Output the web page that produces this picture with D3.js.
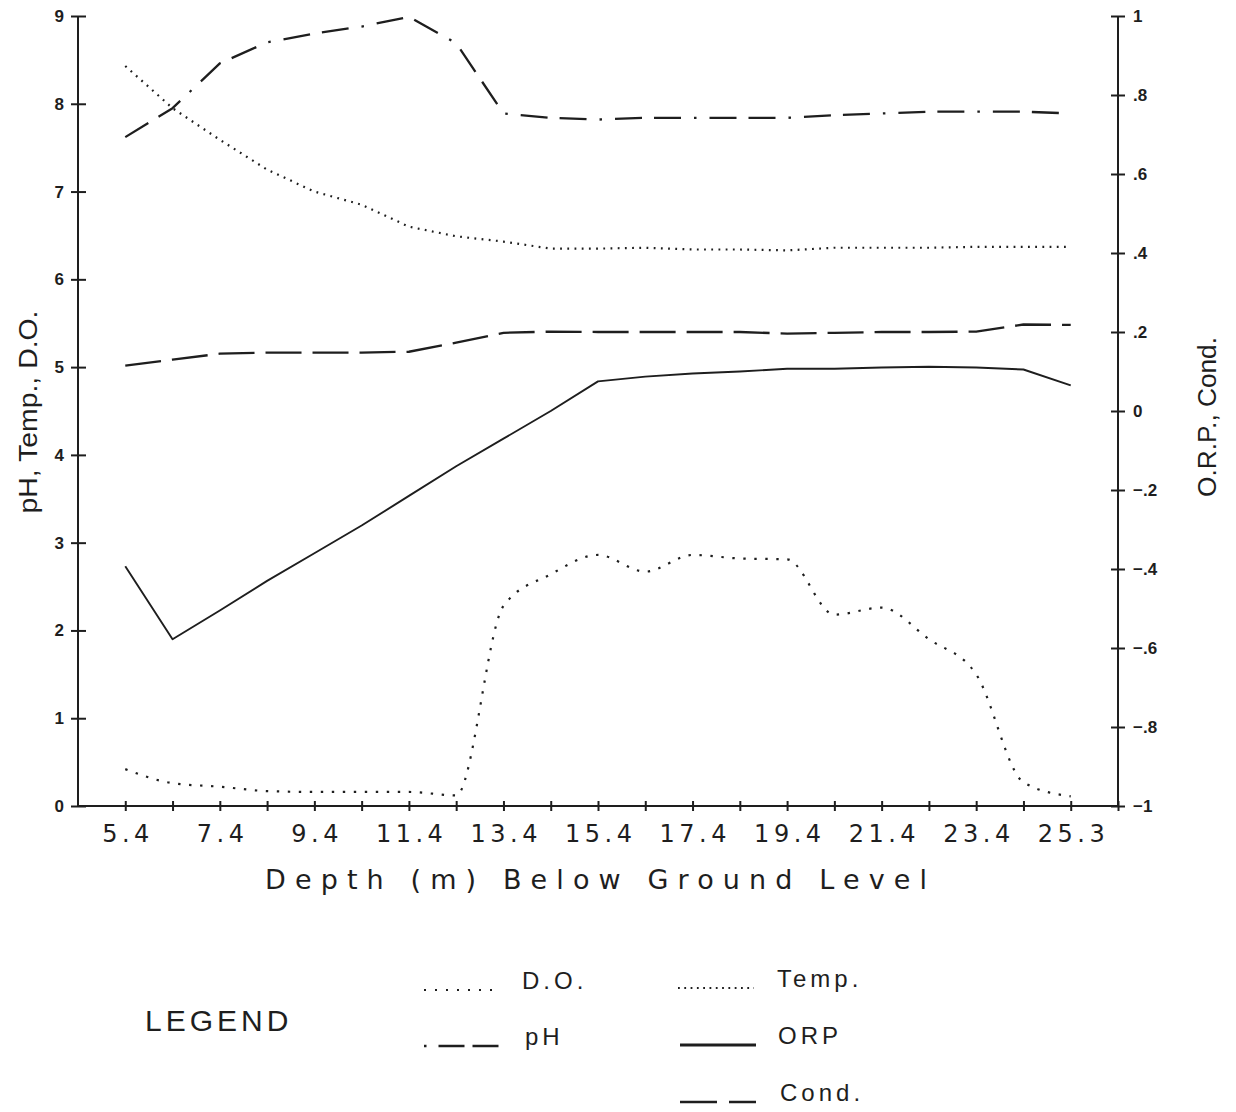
<!DOCTYPE html>
<html>
<head>
<meta charset="utf-8">
<script src="https://cdn.jsdelivr.net/npm/d3@7"></script>
<style>
  html, body { margin: 0; padding: 0; background: #fff; }
  svg { display: block; }
  text { font-family: "Liberation Sans", Arial, sans-serif; fill: #1e1e1e; }
</style>
</head>
<body>
<svg id="chart" width="1236" height="1112"></svg>
<script>
// Sampling depths (m below ground level)
const depths = ["5.4","6.4","7.4","8.4","9.4","10.4","11.4","12.4","13.4","14.4",
                "15.4","16.4","17.4","18.4","19.4","20.4","21.4","22.4","23.4","24.4","25.3"];

// Left-axis series
const pH   = [7.62, 7.95, 8.46, 8.70, 8.80, 8.88, 8.99, 8.69, 7.89, 7.84, 7.82,
              7.84, 7.84, 7.84, 7.84, 7.87, 7.89, 7.91, 7.91, 7.91, 7.89];
const temp = [8.43, 7.95, 7.59, 7.25, 7.00, 6.85, 6.60, 6.49, 6.43, 6.35, 6.35,
              6.36, 6.34, 6.34, 6.33, 6.36, 6.36, 6.36, 6.37, 6.37, 6.37];
const dO   = [0.42, 0.26, 0.22, 0.17, 0.16, 0.16, 0.16, 0.12, 2.28, 2.64, 2.86,
              2.67, 2.86, 2.82, 2.81, 2.18, 2.26, 1.90, 1.50, 0.27, 0.11];

// Right-axis series
const orp  = [-0.393, -0.578, -0.505, -0.430, -0.360, -0.290, -0.215, -0.140, -0.070, 0.000, 0.075,
              0.087, 0.095, 0.100, 0.107, 0.107, 0.110, 0.112, 0.110, 0.105, 0.065];
const cond = [0.115, 0.130, 0.145, 0.148, 0.148, 0.148, 0.150, 0.173, 0.198, 0.201, 0.200,
              0.200, 0.200, 0.200, 0.196, 0.198, 0.200, 0.200, 0.201, 0.219, 0.218];

// Tick values
const leftTicks  = [0, 1, 2, 3, 4, 5, 6, 7, 8, 9];
const rightTicks = [-1, -0.8, -0.6, -0.4, -0.2, 0, 0.2, 0.4, 0.6, 0.8, 1];

const svg = d3.select("#chart");
const ink = "#1e1e1e";
const wideFont = "'DejaVu Sans', Verdana, sans-serif";

const plotLeft = 78, plotRight = 1118, plotTop = 16, plotBottom = 806;

// One step of padding on each side of the depth positions
const x = d3.scaleLinear().domain([-1, depths.length]).range([plotLeft, plotRight]);
const yL = d3.scaleLinear().domain([0, 9]).range([plotBottom, plotTop]);
const yR = d3.scaleLinear().domain([-1, 1]).range([plotBottom, plotTop]);

// ---- axes ----
const xAxis = d3.axisBottom(x)
  .tickValues(d3.range(0, depths.length + 1))
  .tickSize(5)
  .tickPadding(14)
  .tickFormat(i => (i < depths.length && i % 2 === 0) ? depths[i] : "");
const gx = svg.append("g").attr("transform", `translate(0,${plotBottom})`).call(xAxis);
gx.select(".domain").attr("d", `M${plotLeft},0H${plotRight}`);
gx.selectAll(".tick line").attr("y1", -5).attr("y2", 5);
gx.selectAll(".tick text")
  .attr("font-size", 24).attr("letter-spacing", "4.5px").attr("dx", "2.25px")
  .style("font-family", wideFont);

const gl = svg.append("g").attr("transform", `translate(${plotLeft},0)`)
  .call(d3.axisLeft(yL).tickValues(leftTicks).tickSize(7).tickPadding(7).tickFormat(d3.format("d")));
gl.select(".domain").attr("d", `M0,${plotTop}V${plotBottom}`);
gl.selectAll(".tick line").attr("x1", -7).attr("x2", 8);
gl.selectAll(".tick text").attr("font-size", 17).attr("font-weight", "bold");

const fmtR = v => {
  if (v === 0) return "0";
  const s = Math.abs(v) === 1 ? "1" : d3.format(".1f")(Math.abs(v)).replace(/^0/, "");
  return (v < 0 ? "\u2212" : "") + s;
};
const gr = svg.append("g").attr("transform", `translate(${plotRight},0)`)
  .call(d3.axisRight(yR).tickValues(rightTicks).tickSize(7).tickPadding(8).tickFormat(fmtR));
gr.select(".domain").attr("d", `M0,${plotTop}V${plotBottom}`);
gr.selectAll(".tick line").attr("x1", -7).attr("x2", 7);
gr.selectAll(".tick text").attr("font-size", 17).attr("font-weight", "bold");

svg.selectAll(".domain, .tick line").attr("stroke", ink).attr("stroke-width", 2);
svg.selectAll(".tick text").attr("fill", ink);

// ---- axis titles ----
svg.append("text")
  .attr("transform", `translate(37,412) rotate(-90)`)
  .attr("text-anchor", "middle").attr("font-size", 26)
  .attr("textLength", 203).attr("lengthAdjust", "spacingAndGlyphs")
  .text("pH, Temp., D.O.");

svg.append("text")
  .attr("transform", `translate(1216,417) rotate(-90)`)
  .attr("text-anchor", "middle").attr("font-size", 26)
  .attr("textLength", 160).attr("lengthAdjust", "spacingAndGlyphs")
  .text("O.R.P., Cond.");

svg.append("text")
  .attr("x", 265).attr("y", 889)
  .attr("font-size", 27).style("font-family", wideFont)
  .attr("textLength", 662).attr("lengthAdjust", "spacing")
  .text("Depth (m) Below Ground Level");

// ---- series ----
const styles = {
  pH:   { dash: "27,12,27,13,2.5,13", width: 2.3 },
  temp: { dash: "1.8,5.4",            width: 2.2 },
  dO:   { dash: "2.4,8.6",            width: 2.2 },
  orp:  { dash: null,                 width: 1.9 },
  cond: { dash: "36,11",              width: 2.3 }
};

function drawSeries(values, yScale, style, curve) {
  const line = d3.line()
    .x((d, i) => x(i))
    .y(d => yScale(d))
    .curve(curve || d3.curveLinear);
  svg.append("path")
    .datum(values)
    .attr("fill", "none")
    .attr("stroke", ink)
    .attr("stroke-width", style.width)
    .attr("stroke-dasharray", style.dash)
    .attr("stroke-linejoin", "round")
    .attr("d", line);
}

drawSeries(pH, yL, styles.pH);
drawSeries(temp, yL, styles.temp);
drawSeries(dO, yL, styles.dO, d3.curveMonotoneX);
drawSeries(orp, yR, styles.orp);
drawSeries(cond, yR, styles.cond);

// ---- legend ----
const legend = svg.append("g");
legend.append("text")
  .attr("x", 145).attr("y", 1031)
  .attr("font-size", 30).attr("letter-spacing", "4px").attr("fill", "#2a2a2a")
  .text("LEGEND");

const legendItems = [
  { label: "D.O.",  style: styles.dO,   x: 424, y: 990,  lx: 522, dash: "2,9" },
  { label: "Temp.", style: styles.temp, x: 678, y: 988,  lx: 777, dash: "1.8,4.5" },
  { label: "pH",    style: styles.pH,   x: 424, y: 1046, lx: 525, dash: "2.5,12,26,8,26,50" },
  { label: "ORP",   style: styles.orp,  x: 680, y: 1045, lx: 778, dash: null },
  { label: "Cond.", style: styles.cond, x: 680, y: 1102, lx: 780, dash: "37,12,30,50" }
];

legendItems.forEach(it => {
  legend.append("line")
    .attr("x1", it.x).attr("x2", it.x + 76)
    .attr("y1", it.y).attr("y2", it.y)
    .attr("stroke", ink)
    .attr("stroke-width", it.label === "ORP" ? 3 : it.style.width)
    .attr("stroke-dasharray", it.dash);
  legend.append("text")
    .attr("x", it.lx).attr("y", it.y - 1)
    .attr("font-size", 24).attr("letter-spacing", "4px").attr("fill", "#2a2a2a")
    .text(it.label);
});
</script>
</body>
</html>
